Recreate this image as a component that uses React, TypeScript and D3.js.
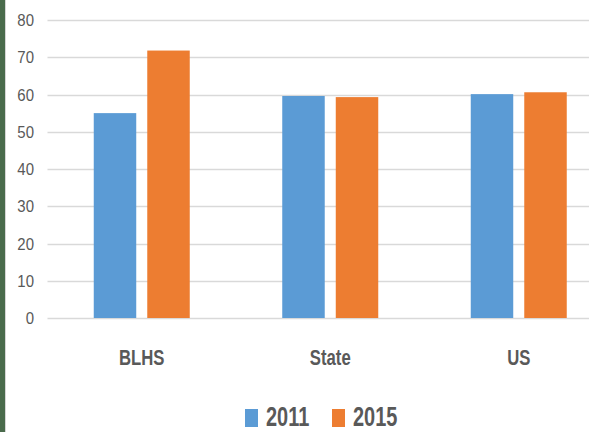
import React, { useEffect, useRef } from 'react';
import * as d3 from 'd3';

const width = 589;
const height = 432;

const categories = ['BLHS', 'State', 'US'];
const seriesNames = ['2011', '2015'];
const values2011 = [55, 59.6, 60.1];
const values2015 = [71.8, 59.3, 60.6];
const yTicks = [0, 10, 20, 30, 40, 50, 60, 70, 80];
const colors = ['#5b9bd5', '#ed7d31'];

const font = '"Liberation Sans", Arial, sans-serif';

const App = () => {
  const svgRef = useRef<SVGSVGElement | null>(null);

  useEffect(() => {
    const svg = d3.select(svgRef.current);
    svg.selectAll('*').remove();

    // dark frame strip on the left edge of the slide
    svg.append('rect').attr('x', 0).attr('y', 0).attr('width', 5).attr('height', height).attr('fill', '#4a6b4c');
    svg.append('line').attr('x1', 5.5).attr('x2', 5.5).attr('y1', 0).attr('y2', height)
      .attr('stroke', '#d6d6d6').attr('stroke-width', 1);

    const plotLeft = 47.5;
    const plotRight = 613;

    const x = d3.scaleBand().domain(categories).range([plotLeft, plotRight]);
    const xInner = d3.scaleBand().domain(seriesNames).range([0, 96]).paddingInner(0.206);
    const y = d3.scaleLinear().domain([0, 80]).range([318, 20]);

    // gridlines
    svg.append('g')
      .selectAll('line')
      .data(yTicks)
      .join('line')
      .attr('x1', plotLeft)
      .attr('x2', width)
      .attr('y1', d => Math.round(y(d)) + 0.5)
      .attr('y2', d => Math.round(y(d)) + 0.5)
      .attr('stroke', '#d9d9d9')
      .attr('stroke-width', 1.3);

    // y tick labels (condensed, calibri-ish)
    svg.append('g')
      .selectAll('text')
      .data(yTicks)
      .join('text')
      .attr('transform', d => `translate(34,${y(d)}) scale(0.88,1)`)
      .attr('dy', '0.36em')
      .attr('text-anchor', 'end')
      .attr('font-family', font)
      .attr('font-size', 17)
      .attr('fill', '#595959')
      .text(d => d);

    const series = [values2011, values2015];
    series.forEach((vals, si) => {
      svg.append('g')
        .selectAll('rect')
        .data(categories)
        .join('rect')
        .attr('x', (c) => (x(c) as number) + (x.bandwidth() - 96) / 2 + (xInner(seriesNames[si]) as number))
        .attr('y', (_c, i) => y(vals[i]))
        .attr('width', xInner.bandwidth())
        .attr('height', (_c, i) => y(0) - y(vals[i]))
        .attr('fill', colors[si]);
    });

    // category labels
    svg.append('g')
      .selectAll('text')
      .data(categories)
      .join('text')
      .attr('transform', c => `translate(${(x(c) as number) + x.bandwidth() / 2},365) scale(0.76,1)`)
      .attr('text-anchor', 'middle')
      .attr('font-family', font)
      .attr('font-weight', 'bold')
      .attr('font-size', 22)
      .attr('fill', '#595959')
      .text(c => c);

    // legend
    const legendX = [245, 332];
    seriesNames.forEach((name, i) => {
      svg.append('rect')
        .attr('x', legendX[i])
        .attr('y', 409)
        .attr('width', 13)
        .attr('height', 18)
        .attr('fill', colors[i]);
      svg.append('text')
        .attr('transform', `translate(${legendX[i] + 21},426) scale(0.74,1)`)
        .attr('font-family', font)
        .attr('font-weight', 'bold')
        .attr('font-size', 27)
        .attr('fill', '#595959')
        .text(name);
    });
  }, []);

  return (
    <svg
      ref={svgRef}
      width={width}
      height={height}
      style={{ position: 'absolute', left: 0, top: 0, background: '#ffffff' }}
    ></svg>
  );
};

export default App;
